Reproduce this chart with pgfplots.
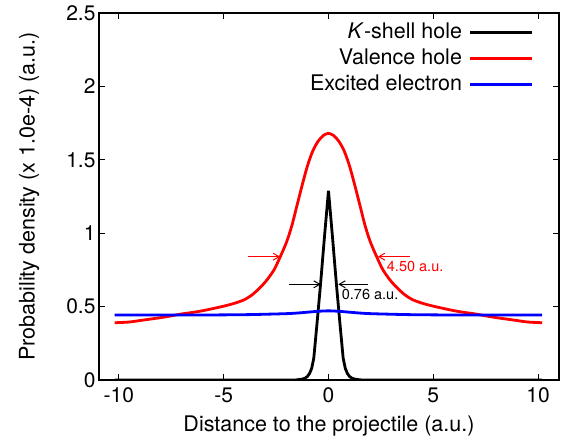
\documentclass[border=0pt]{standalone}
\usepackage{pgfplots}
\pgfplotsset{compat=1.18}
\usepackage{fontspec}
\setmainfont{TeX Gyre Heros}
\usetikzlibrary{arrows.meta,calc}
\begin{document}
\begin{tikzpicture}
\begin{axis}[
  scale only axis, width=460pt, height=367pt,
  xmin=-10.95, xmax=11.0, ymin=0, ymax=2.5,
  xtick={-10,-5,0,5,10}, ytick={0,0.5,1,1.5,2,2.5},
  axis line style={line width=1.5pt},
  tick style={line width=1pt, black},
  major tick length=6pt,
  tick align=inside,
  /pgf/number format/assume math mode=true,
  ticklabel style={font=\fontsize{21}{24}\selectfont},
  xticklabel style={yshift=-4pt},
  label style={font=\fontsize{21.5}{24}\selectfont},
  xlabel={Distance to the projectile (a.u.)},
  ylabel={Probability density (x 1.0e-4) (a.u.)},
  xlabel style={yshift=-6pt},
  ylabel style={yshift=20pt},
  legend style={draw=none, fill=none, at={(rel axis cs:1,1)}, anchor=north east,
    xshift=-22pt, yshift=-6pt, font=\fontsize{21.5}{24}\selectfont,
    row sep=3.5pt, column sep=6pt,
    nodes={inner sep=1pt, text height=16pt, text depth=4.5pt}},
  legend cell align=right,
  legend plot pos=right,
  legend image code/.code={\draw[#1] (0pt,0pt) -- (62pt,0pt);},
]
\addplot[black, line width=2.8pt] coordinates {
(-10.2,0) (-1.6,0) (-1.4,0.003) (-1.25,0.006) (-1.1,0.014) (-1.0,0.025) (-0.9,0.045) (-0.8,0.08) (-0.7,0.15)
(-0.55,0.38) (-0.38,0.65) (-0.2,0.96) (0,1.29)
(0.2,0.96) (0.38,0.65) (0.55,0.38) (0.7,0.15) (0.8,0.08) (0.9,0.045) (1.0,0.025) (1.1,0.014) (1.25,0.006) (1.4,0.003) (1.6,0) (10.2,0)
};
\addlegendentry{\textit{K}-shell hole}
\addplot[red, line width=2.8pt, smooth, tension=0.5] coordinates {
(-10.2,0.39) (-9.5,0.395) (-9,0.405) (-8.5,0.415) (-8,0.425) (-7.5,0.437) (-7,0.45) (-6.5,0.46) (-6,0.472)
(-5.5,0.487) (-5,0.503) (-4.5,0.522) (-4,0.548) (-3.6,0.585) (-3.3,0.625) (-3,0.67) (-2.6,0.75) (-2.3,0.84)
(-2,0.94) (-1.75,1.05) (-1.5,1.19) (-1.25,1.33) (-1,1.46) (-0.75,1.56) (-0.5,1.625) (-0.25,1.665) (0,1.68)
(0.25,1.665) (0.5,1.625) (0.75,1.56) (1,1.46) (1.25,1.33) (1.5,1.19) (1.75,1.05) (2,0.94) (2.3,0.84)
(2.6,0.75) (3,0.67) (3.3,0.625) (3.6,0.585) (4,0.548) (4.5,0.522) (5,0.503) (5.5,0.487) (6,0.472)
(6.5,0.46) (7,0.45) (7.5,0.437) (8,0.425) (8.5,0.415) (9,0.405) (9.5,0.395) (10.2,0.39)
};
\addlegendentry{Valence hole}
\addplot[blue, line width=2.8pt, smooth, tension=0.5] coordinates {
(-10.2,0.443) (-6,0.443) (-4,0.445) (-3,0.448) (-2,0.452) (-1.5,0.456) (-1,0.462) (-0.5,0.468) (0,0.471)
(0.5,0.468) (1,0.462) (1.5,0.456) (2,0.452) (3,0.448) (4,0.445) (6,0.443) (10.2,0.443)
};
\addlegendentry{Excited electron}
\draw[red, line width=1pt, -{Straight Barb[length=6pt,width=7pt]}] (axis cs:-3.84,0.84) -- (axis cs:-2.31,0.84);
\draw[red, line width=1pt, -{Straight Barb[length=6pt,width=7pt]}] (axis cs:3.89,0.84) -- (axis cs:2.36,0.84);
\draw[black, line width=1pt, -{Straight Barb[length=6pt,width=7pt]}] (axis cs:-1.87,0.652) -- (axis cs:-0.37,0.652);
\draw[black, line width=1pt, -{Straight Barb[length=6pt,width=7pt]}] (axis cs:1.90,0.652) -- (axis cs:0.47,0.652);
\node[red, anchor=west, inner sep=0pt, font=\fontsize{14.5}{16}\selectfont] at (axis cs:2.78,0.77) {4.50 a.u.};
\node[black, anchor=west, inner sep=0pt, font=\fontsize{14.5}{16}\selectfont] at (axis cs:0.63,0.58) {0.76 a.u.};
\coordinate (bl) at (rel axis cs:0,0);
\coordinate (tr) at (rel axis cs:1,1);
\end{axis}
\pgfresetboundingbox
\path ($(bl)+(-99pt,-62pt)$) rectangle ($(tr)+(4pt,13pt)$);
\end{tikzpicture}
\end{document}
